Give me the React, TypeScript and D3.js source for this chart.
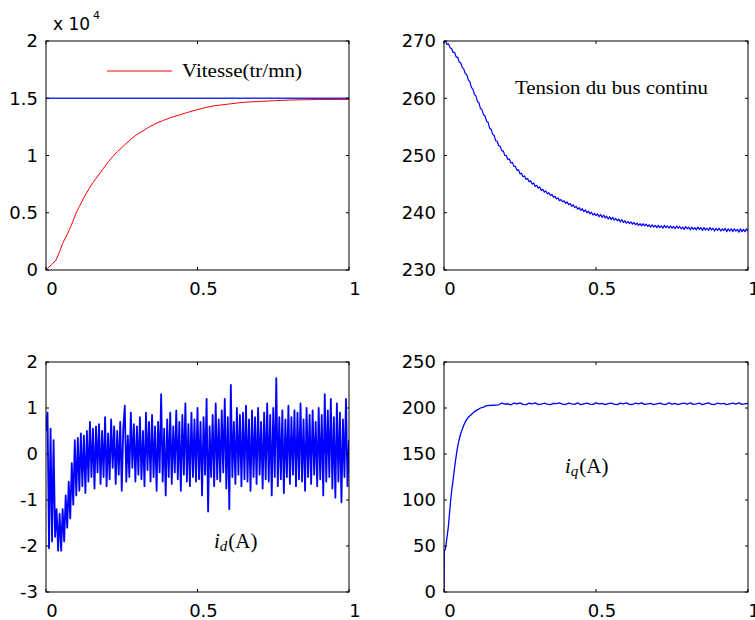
import React from "react";
import * as d3 from "d3";

// ---------- DATA ----------
const xTickValues = [0, 0.5, 1];
const xTickLabels = ["0", "0.5", "1"];

// Speed (tr/mn)
const speedT = [0, 0.005, 0.02, 0.033, 0.045, 0.055, 0.066, 0.077, 0.088, 0.099, 0.11, 0.121, 0.132, 0.143, 0.154, 0.165, 0.179, 0.193, 0.206, 0.22, 0.236, 0.253, 0.275, 0.297, 0.32, 0.341, 0.363, 0.385, 0.41, 0.44, 0.465, 0.495, 0.52, 0.55, 0.58, 0.605, 0.63, 0.655, 0.7, 0.75, 0.8, 0.85, 0.9, 1.0];
const speedV = [0, 150, 500, 870, 1600, 2330, 2900, 3500, 4200, 4950, 5550, 6100, 6650, 7140, 7600, 8000, 8500, 9000, 9450, 9900, 10350, 10770, 11300, 11790, 12150, 12500, 12800, 13040, 13300, 13540, 13750, 13970, 14150, 14320, 14420, 14500, 14580, 14650, 14720, 14780, 14840, 14870, 14890, 14900];
const speedRef = 15000;
const speedTicks = [0, 5000, 10000, 15000, 20000];
const speedTickLabels = ["0", "0.5", "1", "1.5", "2"];

// DC bus voltage, dt = 0.005
const busV = [270.0, 269.9, 269.4, 269.5, 268.8, 268.7, 268.0, 268.0, 267.2, 267.2,
  266.3, 266.2, 265.4, 265.1, 264.3, 264.1, 263.2, 262.9, 261.9, 261.6,
  260.7, 260.4, 259.4, 259.2, 258.2, 258.0, 257.1, 256.9, 256.0, 255.8,
  254.8, 254.6, 253.7, 253.5, 252.6, 252.5, 251.7, 251.6, 250.8, 250.8,
  250.0, 250.0, 249.3, 249.4, 248.7, 248.8, 248.1, 248.1, 247.4, 247.5,
  246.8, 246.9, 246.3, 246.4, 245.8, 246.0, 245.4, 245.6, 245.0, 245.2,
  244.6, 244.8, 244.3, 244.5, 243.9, 244.1, 243.6, 243.8, 243.3, 243.5,
  243.0, 243.2, 242.7, 242.9, 242.4, 242.6, 242.1, 242.3, 241.9, 242.1,
  241.6, 241.9, 241.4, 241.6, 241.1, 241.4, 240.9, 241.1, 240.6, 240.9,
  240.4, 240.7, 240.2, 240.5, 240.0, 240.3, 239.8, 240.1, 239.6, 239.9,
  239.5, 239.8, 239.3, 239.7, 239.2, 239.6, 239.1, 239.4, 238.9, 239.3,
  238.8, 239.2, 238.7, 239.0, 238.6, 238.9, 238.4, 238.8, 238.3, 238.6,
  238.2, 238.5, 238.1, 238.4, 238.0, 238.3, 237.9, 238.2, 237.8, 238.1,
  237.7, 238.1, 237.7, 238.0, 237.6, 237.9, 237.5, 237.9, 237.5, 237.8,
  237.4, 237.8, 237.4, 237.7, 237.3, 237.8, 237.4, 237.7, 237.3, 237.7,
  237.3, 237.6, 237.2, 237.7, 237.3, 237.6, 237.2, 237.5, 237.1, 237.6,
  237.2, 237.5, 237.0, 237.5, 237.1, 237.4, 237.0, 237.5, 237.1, 237.4,
  236.9, 237.4, 237.0, 237.3, 236.9, 237.4, 237.0, 237.3, 236.8, 237.3,
  236.9, 237.3, 236.8, 237.2, 236.9, 237.3, 236.7, 237.2, 236.8, 237.2,
  236.7, 237.2, 236.8, 237.1, 236.6, 237.2, 236.7, 237.1, 236.7, 237.2, 236.8];
const busTicks = [230, 240, 250, 260, 270];

// i_d current, dt = 0.005
const idV = [0.5, 0.9, -2.05, 0.55, -1.9, 0.3, -1.8, -1.2, -2.1, -1.3,
  -2.1, -1.2, -1.9, -0.9, -1.6, -0.6, -1.4, -0.2, -1.1, 0.3,
  -0.9, 0.35, -0.8, 0.45, -0.7, 0.4, -0.85, 0.5, -0.6, 0.7,
  -0.5, 0.55, -0.75, 0.6, -0.4, 0.65, -0.65, 0.5, -0.5, 0.8,
  -0.7, 0.45, -0.55, 0.75, -0.3, 0.6, -0.65, 0.5, -0.45, 0.7,
  -0.8, 0.55, 1.05, -0.6, 0.4, -0.5, 0.9, -0.3, 0.65, -0.6,
  0.6, -0.45, 0.8, -0.55, 0.5, -0.7, 0.9, -0.35, 0.7, -0.6,
  0.85, -0.5, 0.6, -0.8, 0.7, -0.4, 1.3, -0.6, 0.55, -0.9,
  0.75, -0.5, 0.9, -0.65, 0.6, -0.4, 0.95, -0.55, 0.7, -0.8,
  0.85, -0.45, 1.1, -0.6, 0.65, -0.7, 0.9, -0.5, 0.75, -0.6,
  1.0, -0.55, 0.7, -0.9, 0.8, -0.45, 1.2, -1.25, 0.6, -0.5,
  0.85, -0.7, 1.1, -0.55, 0.75, -0.6, 0.95, -0.4, 1.2, -0.75,
  0.8, -1.2, 1.5, -0.5, 0.7, -0.65, 1.0, -0.45, 0.85, -0.7,
  0.9, -0.55, 1.05, -0.6, 0.75, -0.8, 0.95, -0.5, 0.8, -0.65,
  1.0, -0.45, 0.7, -0.75, 0.9, -0.55, 1.1, -0.6, 0.85, -0.9,
  1.0, -0.5, 1.65, -0.7, 0.8, -0.55, 0.95, -0.85, 0.75, -0.5,
  1.05, -0.65, 0.8, -0.45, 0.95, -0.7, 0.9, -0.55, 1.1, -0.6,
  0.75, -0.8, 1.0, -0.5, 0.85, -0.65, 0.95, -0.45, 0.7, -0.7,
  1.0, -0.55, 0.85, -0.9, 1.3, -0.6, 0.95, -0.5, 1.2, -0.75,
  0.8, -0.95, 1.1, -0.6, 0.9, -1.05, 0.75, -0.5, 1.2, -0.7, 0.3];
const idTicks = [-3, -2, -1, 0, 1, 2];

// i_q current
const iqRiseT = [0, 0.001, 0.004, 0.007, 0.01, 0.014, 0.018, 0.022, 0.026, 0.03, 0.034, 0.038, 0.042, 0.046, 0.05, 0.055, 0.06, 0.066, 0.072, 0.08, 0.09, 0.1, 0.11, 0.12, 0.13, 0.14, 0.16, 0.18];
const iqRiseV = [0, 45, 46, 52, 60, 70, 85, 100, 112, 122, 133, 143, 152, 160, 166, 172, 177, 182, 186, 190, 193, 196, 198, 200, 201, 202.5, 203, 203.5];
// flat part from t = 0.19 to 1.0, dt = 0.01
const iqFlatV = [205.4, 204.2, 204.6, 203.5, 205.3, 204.4, 205.6, 204.0, 203.7, 205.2,
  204.5, 205.5, 203.8, 204.3, 205.4, 204.1, 203.6, 205.0, 204.7, 205.6,
  204.2, 203.8, 205.3, 204.5, 204.0, 205.5, 203.6, 204.6, 205.2, 204.3,
  203.9, 205.6, 204.4, 205.0, 203.7, 204.8, 205.4, 204.1, 203.6, 205.3,
  204.6, 205.5, 204.0, 203.8, 205.2, 204.4, 205.6, 203.9, 204.5, 205.1,
  203.7, 204.6, 205.4, 204.2, 203.8, 205.5, 204.3, 205.0, 203.6, 204.7,
  205.3, 204.1, 205.6, 203.9, 204.4, 205.2, 203.7, 204.8, 205.5, 204.0,
  203.8, 205.4, 204.5, 205.0, 203.6, 204.6, 205.3, 204.2, 205.5, 203.9, 204.6, 205.0];
const iqTicks = [0, 50, 100, 150, 200, 250];

// ---------- helpers ----------
type Pt = [number, number];
const zip = (t: number[], v: number[]): Pt[] => t.map((ti, i) => [ti, v[i]]);
const even = (v: number[], t0: number, dt: number): Pt[] => v.map((vi, i) => [t0 + i * dt, vi]);

const TICK_FONT = "'DejaVu Sans', Verdana, sans-serif";
const SERIF = "'Liberation Serif', 'Times New Roman', serif";

type Series = { pts: Pt[]; color: string; width: number };

function Panel(props: {
  id: string;
  left: number; right: number; top: number; bottom: number;
  yDomain: [number, number];
  yTicks: number[];
  yLabels?: string[];
  series: Series[];
  children?: React.ReactNode;
}) {
  const { id, left, right, top, bottom, yDomain, yTicks, yLabels, series } = props;
  const x = d3.scaleLinear().domain([0, 1]).range([left, right]);
  const y = d3.scaleLinear().domain(yDomain).range([bottom, top]);
  const line = d3.line<Pt>().x((d) => x(d[0])).y((d) => y(d[1]));
  const tl = 3;
  return (
    <g>
      <defs>
        <clipPath id={id}>
          <rect x={left} y={top} width={right - left} height={bottom - top} />
        </clipPath>
      </defs>
      <rect x={left} y={top} width={right - left} height={bottom - top} fill="white" />
      <g clipPath={`url(#${id})`}>
        {series.map((s, i) => (
          <path key={i} d={line(s.pts) || ""} fill="none" stroke={s.color} strokeWidth={s.width} strokeLinejoin="round" />
        ))}
      </g>
      <rect x={left} y={top} width={right - left} height={bottom - top} fill="none" stroke="black" strokeWidth={1} />
      {xTickValues.map((v, i) => (
        <g key={"x" + i}>
          <line x1={x(v)} x2={x(v)} y1={bottom} y2={bottom - tl} stroke="black" />
          <line x1={x(v)} x2={x(v)} y1={top} y2={top + tl} stroke="black" />
          <text x={x(v) + 6} y={bottom + 25} textAnchor="middle" fontFamily={TICK_FONT} fontSize={18} fill="black">
            {xTickLabels[i]}
          </text>
        </g>
      ))}
      {yTicks.map((v, i) => (
        <g key={"y" + i}>
          <line x1={left} x2={left + tl} y1={y(v)} y2={y(v)} stroke="black" />
          <line x1={right} x2={right - tl} y1={y(v)} y2={y(v)} stroke="black" />
          <text x={left - 8} y={y(v)} dy="0.36em" textAnchor="end" fontFamily={TICK_FONT} fontSize={18} fill="black">
            {yLabels ? yLabels[i] : String(v)}
          </text>
        </g>
      ))}
      {props.children}
    </g>
  );
}

export default function App() {
  const L1 = 46, R1 = 349, L2 = 444, R2 = 748;
  const T1 = 41, B1 = 270, T2 = 362, B2 = 592;
  const speedPts = zip(speedT, speedV);
  const refPts: Pt[] = [[0, speedRef], [1, speedRef]];
  const busPts = even(busV, 0, 0.005);
  const idPts = even(idV, 0, 0.005);
  const iqPts = zip(iqRiseT, iqRiseV).concat(even(iqFlatV, 0.19, 0.01));
  return (
    <svg width={755} height={620} style={{ position: "absolute", left: 0, top: 0, background: "white" }}>
      <rect x={0} y={0} width={755} height={620} fill="white" />
      <Panel id="c1" left={L1} right={R1} top={T1} bottom={B1} yDomain={[0, 20000]} yTicks={speedTicks} yLabels={speedTickLabels}
        series={[{ pts: refPts, color: "#2233ee", width: 1.3 }, { pts: speedPts, color: "#ff0000", width: 1 }]}>
        <line x1={107} x2={172} y1={71} y2={71} stroke="#ff0000" strokeWidth={1} />
        <text x={182} y={77} fontFamily={SERIF} fontSize={19} textLength={120} lengthAdjust="spacingAndGlyphs" fill="black">Vitesse(tr/mn)</text>
        <text x={53} y={30} fontFamily={TICK_FONT} fontSize={17} fill="black">x 10</text>
        <text x={93} y={19} fontFamily={TICK_FONT} fontSize={11} fill="black">4</text>
      </Panel>
      <Panel id="c2" left={L2} right={R2} top={T1} bottom={B1} yDomain={[230, 270]} yTicks={busTicks}
        series={[{ pts: busPts, color: "#0000ff", width: 1.2 }]}>
        <text x={515} y={94} fontFamily={SERIF} fontSize={19} textLength={193} lengthAdjust="spacingAndGlyphs" fill="black">Tension du bus continu</text>
      </Panel>
      <Panel id="c3" left={L1} right={R1} top={T2} bottom={B2} yDomain={[-3, 2]} yTicks={idTicks}
        series={[{ pts: idPts, color: "#0000ff", width: 1.8 }]}>
        <text x={214} y={548} fontFamily={SERIF} fontSize={21} fill="black">
          <tspan fontStyle="italic">i</tspan>
          <tspan fontStyle="italic" fontSize={15} dy={3}>d</tspan>
          <tspan dy={-3} dx={1}>(A)</tspan>
        </text>
      </Panel>
      <Panel id="c4" left={L2} right={R2} top={T2} bottom={B2} yDomain={[0, 250]} yTicks={iqTicks}
        series={[{ pts: iqPts, color: "#0000ff", width: 1.3 }]}>
        <text x={565} y={473} fontFamily={SERIF} fontSize={21} fill="black">
          <tspan fontStyle="italic">i</tspan>
          <tspan fontStyle="italic" fontSize={15} dy={3}>q</tspan>
          <tspan dy={-3} dx={1}>(A)</tspan>
        </text>
      </Panel>
    </svg>
  );
}
